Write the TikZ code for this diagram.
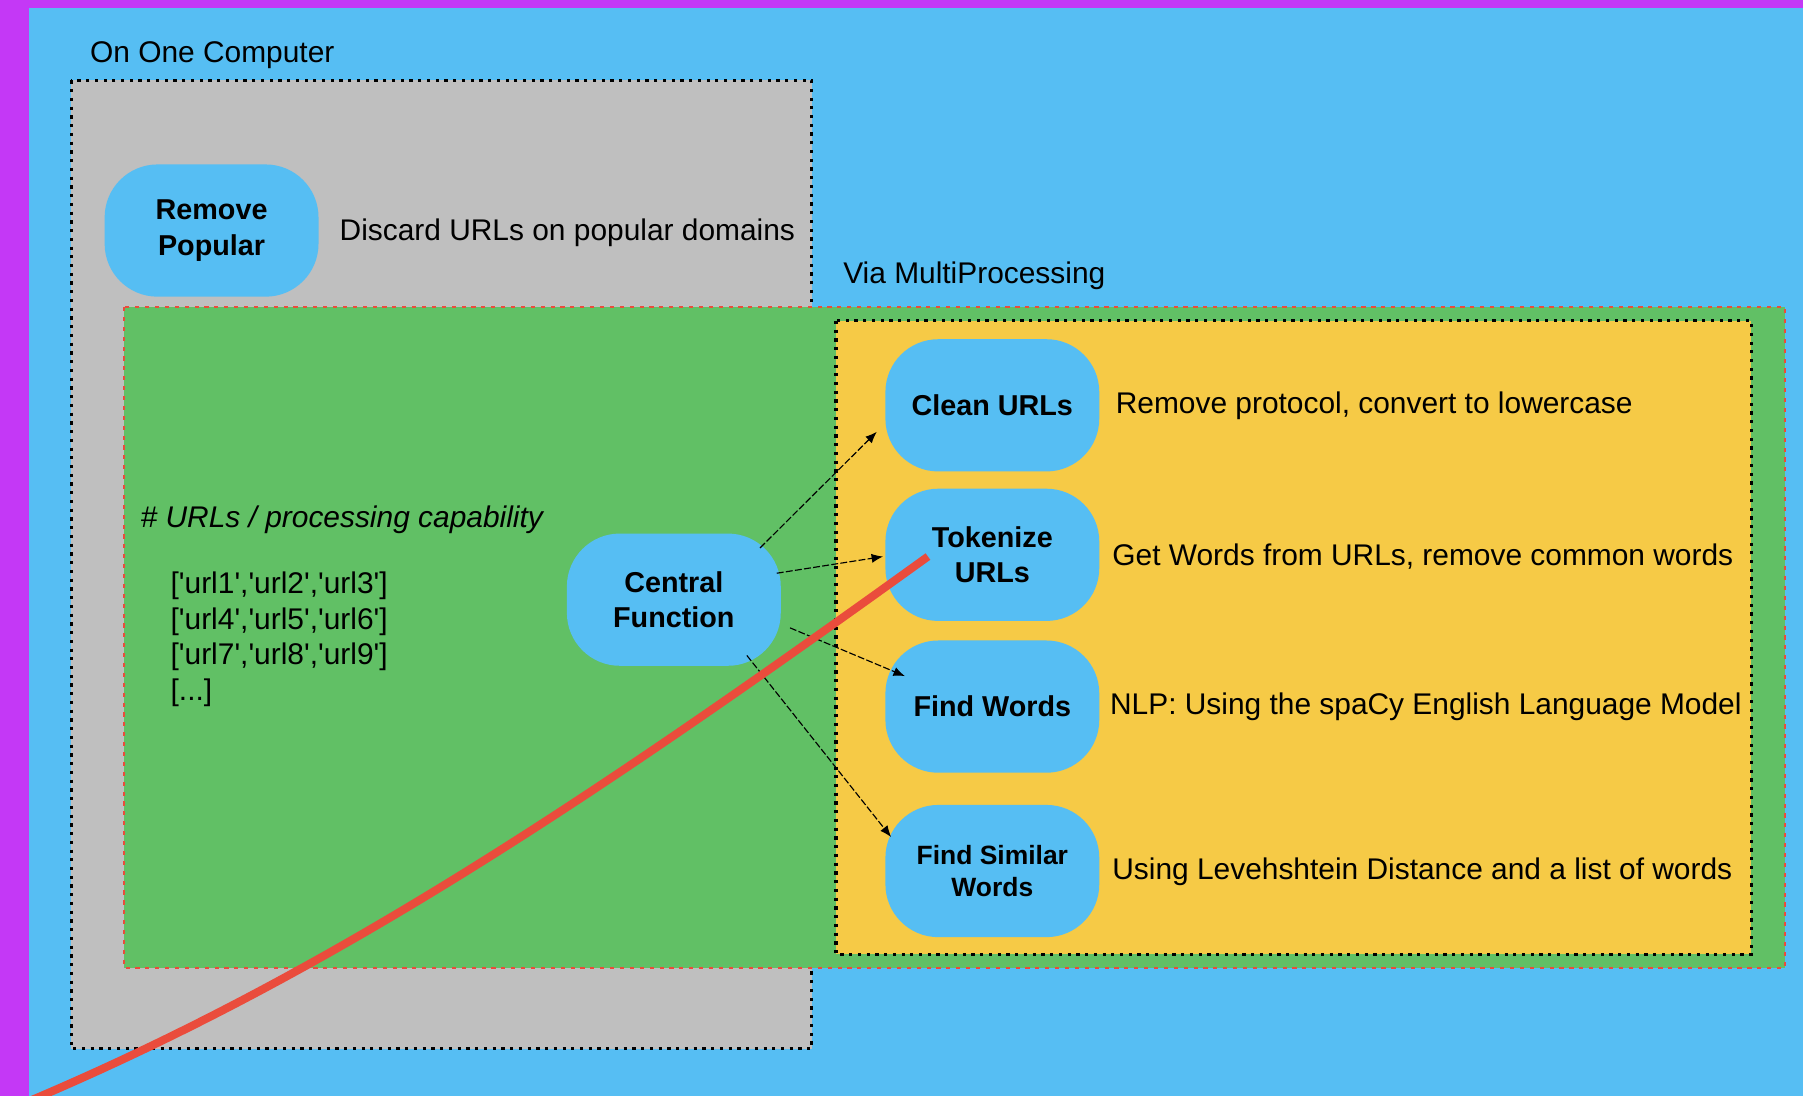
\documentclass[tikz,border=0pt]{standalone}
\usepackage{fontspec}
\setmainfont{Liberation Sans}
\usetikzlibrary{arrows.meta,calc}
\definecolor{bgmag}{RGB}{196,56,246}
\definecolor{skyb}{RGB}{86,190,243}
\definecolor{grayb}{RGB}{191,191,191}
\definecolor{greenb}{RGB}{97,192,101}
\definecolor{yellowb}{RGB}{246,202,70}
\definecolor{redl}{RGB}{234,76,60}
\newcommand\sq{\textquotesingle}
\begin{document}
\begin{tikzpicture}[x=0.5pt,y=-0.5pt,
  proc/.style={fill=skyb, rounded corners=23pt, minimum width=93pt, minimum height=57.5pt,
    inner sep=0pt, align=center, font=\fontsize{12.5}{15.5}\selectfont\bfseries},
  procsmall/.style={proc, font=\fontsize{11.5}{14}\selectfont\bfseries},
  desc/.style={anchor=west, inner sep=0pt, font=\fontsize{13}{15.5}\selectfont},
  dotbox/.style={draw=black, line width=1.4pt, dash pattern=on 1.4pt off 2.4pt},
  reddot/.style={draw=redl, line width=0.9pt, dash pattern=on 1.8pt off 2.5pt},
  flow/.style={draw=black, line width=0.5pt, dash pattern=on 3pt off 1pt, -{Latex[length=5pt,width=4pt]}},
  strike/.style={draw=redl, line width=3.5pt}]
\useasboundingbox (0,0) rectangle (1568,953);
% backgrounds
\fill[bgmag] (0,0) rectangle (1568,953);
\fill[skyb] (25,7) rectangle (1568,953);
% containers
\path[fill=grayb, dotbox] (62,70) rectangle (706,912);
\path[fill=greenb, reddot] (108,267) rectangle (1552,842);
\path[fill=yellowb, dotbox] (727,279) rectangle (1523,830);
% labels
\node[desc] (lblone) at (78,48) {On One Computer};
\node[desc] (lblvia) at (733,240) {Via MultiProcessing};
\node[desc, font=\fontsize{13}{15.5}\selectfont\itshape] (lblcap) at (122,452) {\# URLs / processing capability};
\node[desc, align=left] (lbllist) at (148,556) {{[}\sq url1\sq,\sq url2\sq,\sq url3\sq{]}\\{[}\sq url4\sq,\sq url5\sq,\sq url6\sq{]}\\{[}\sq url7\sq,\sq url8\sq,\sq url9\sq{]}\\{[}...{]}};
% nodes
\node[proc] (rem) at (184,200.5) {Remove\\Popular};
\node[desc] (remd) at (295,202) {Discard URLs on popular domains};
\node[proc] (cen) at (586,521.5) {Central\\Function};
\node[proc] (clean) at (863,352.5) {Clean URLs};
\node[proc] (tok) at (863,482.5) {Tokenize\\URLs};
\node[proc] (fw) at (863,614.5) {Find Words};
\node[procsmall] (fs) at (863,757.5) {Find Similar\\Words};
\node[desc] (cleand) at (970,353) {Remove protocol, convert to lowercase};
\node[desc] (tokd) at (967,484) {Get Words from URLs, remove common words};
\node[desc] (fwd) at (965,615) {NLP: Using the spaCy English Language Model};
\node[desc] (fsd) at (967,758) {Using Levehshtein Distance and a list of words};
% connectors
\draw[flow] ($(cen)+(75,-45)$) -- ($(clean)+(-100.5,23)$);
\draw[flow] ($(cen)+(89.5,-23)$) -- ($(tok)+(-95,1.5)$);
\draw[flow] ($(cen)+(101,24.5)$) -- ($(fw)+(-76,-26.5)$);
\draw[flow] ($(cen)+(63.5,48.5)$) -- ($(fs)+(-88,-29.5)$);
% red strike line
\coordinate (redstart) at ($(tok)+(-56,1.5)$);
\coordinate (redend) at (22,959);
\begin{scope}
\clip (0,0) rectangle (1568,953);
\draw[strike] (redstart) .. controls (507,700) and (285,848) .. (redend);
\end{scope}
\end{tikzpicture}
\end{document}
